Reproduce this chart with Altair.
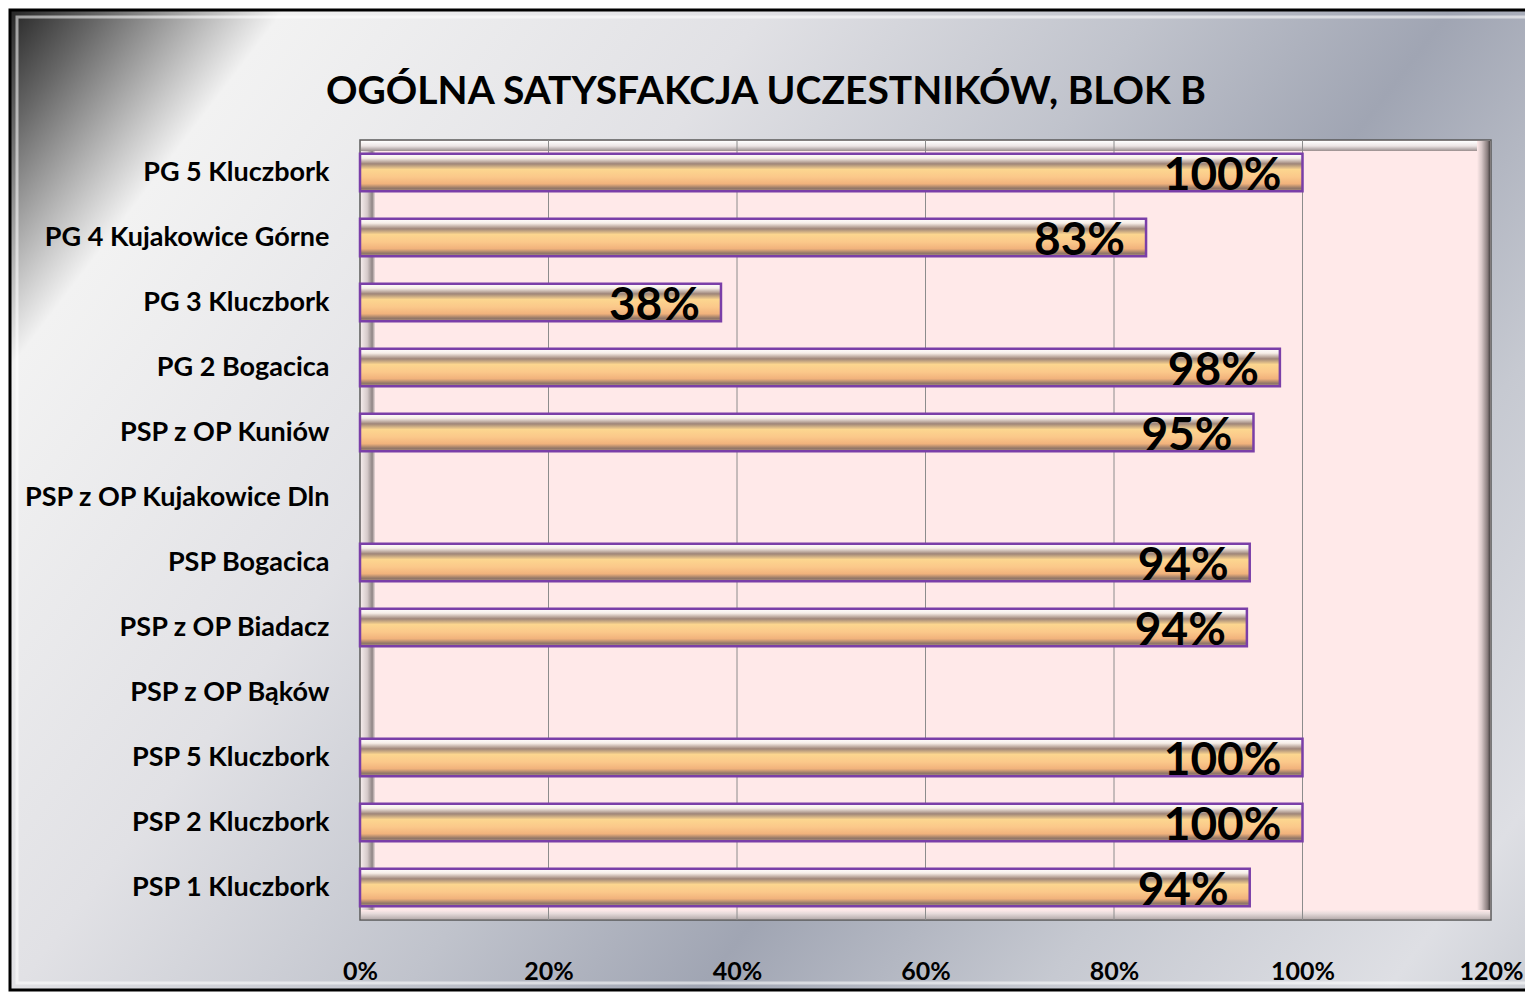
import altair as alt
import pandas as pd

# ---- data ----
categories = [
    "PG 5 Kluczbork",
    "PG 4 Kujakowice Górne",
    "PG 3 Kluczbork",
    "PG 2 Bogacica",
    "PSP z OP Kuniów",
    "PSP z OP Kujakowice Dln",
    "PSP Bogacica",
    "PSP z OP Biadacz",
    "PSP z OP Bąków",
    "PSP 5 Kluczbork",
    "PSP 2 Kluczbork",
    "PSP 1 Kluczbork",
]
values = [1.00, 0.834, 0.383, 0.976, 0.948, None, 0.944, 0.941, None, 1.00, 1.00, 0.944]
x_ticks = [0, 0.2, 0.4, 0.6, 0.8, 1.0, 1.2]
grid_vals = [0.2, 0.4, 0.6, 0.8, 1.0]
title_text = "OGÓLNA SATYSFAKCJA UCZESTNIKÓW, BLOK B"

df = pd.DataFrame({"cat": categories, "value": values})
df_bars = df.dropna()
df_grid = pd.DataFrame({"value": grid_vals})

W, H = 1131, 780
PL, PT = 352, 132
FONT = "Lato"

def lg(stops, x1=0, y1=0, x2=0, y2=1):
    return alt.LinearGradient(
        gradient="linear",
        stops=[alt.GradientStop(offset=o, color=c) for o, c in stops],
        x1=x1, y1=y1, x2=x2, y2=y2,
    )

one = alt.Data(values=[{}])

x_scale = alt.Scale(domain=[0, 1.2], nice=False, zero=True)
x_axis = alt.Axis(values=x_ticks, format=".0%", title=None, grid=False, domain=False,
                  ticks=False, labelFont=FONT, labelFontWeight="bold", labelFontSize=25,
                  labelColor="black", labelPadding=39, zindex=1, labelOverlap=False,
                  labelFlush=False)
y_scale = alt.Scale(domain=categories, paddingInner=0.42, paddingOuter=0.21)
y_axis = alt.Axis(title=None, domain=False, ticks=False, labelFont=FONT,
                  labelFontWeight="bold", labelFontSize=27, labelColor="black",
                  labelPadding=31, zindex=1, labelLimit=400)

# metallic chart background
bg = alt.Chart(one).mark_rect(
    fill=lg([(0, "#262626"), (0.04, "#666666"), (0.12, "#f2f2f2"), (0.33, "#e1e1e5"),
             (0.5, "#c0c3cc"), (0.63, "#a0a5b3"), (0.78, "#c6c9d1"), (0.93, "#dedfe4"),
             (1, "#cacdd4")], x1=0, y1=0, x2=1.2, y2=0.585),
    stroke="#000000", strokeWidth=3,
).encode(x=alt.value(-(PL - 2)), x2=alt.value(1190), y=alt.value(-(PT - 2)), y2=alt.value(850))

inner_frame = alt.Chart(one).mark_rect(
    fill="transparent", stroke="#ffffff", strokeOpacity=0.55, strokeWidth=3,
).encode(x=alt.value(-(PL - 9)), x2=alt.value(1200), y=alt.value(-(PT - 9)), y2=alt.value(843))

# plot area
plot_bg = alt.Chart(one).mark_rect(fill="#FFE9E9", stroke="#5a5a5a", strokeWidth=1.5).encode(
    x=alt.value(0), x2=alt.value(W), y=alt.value(0), y2=alt.value(H))

left_bevel = alt.Chart(one).mark_rect(
    fill=lg([(0, "#f3eaea"), (0.45, "#d6caca"), (0.8, "#8e8484"), (1, "#eadada")], 0, 0, 1, 0)
).encode(x=alt.value(1), x2=alt.value(15), y=alt.value(1), y2=alt.value(H - 1))
top_bevel = alt.Chart(one).mark_rect(
    fill=lg([(0, "#ffffff"), (0.5, "#ece4e4"), (1, "#9a8e8e")])
).encode(x=alt.value(1), x2=alt.value(W - 1), y=alt.value(1), y2=alt.value(11))
right_bevel = alt.Chart(one).mark_rect(
    fill=lg([(0, "#ffe9e9"), (0.35, "#d8c8c8"), (0.8, "#8a7e7e"), (1, "#4a4444")], 0, 0, 1, 0)
).encode(x=alt.value(W - 14), x2=alt.value(W - 1), y=alt.value(1), y2=alt.value(H - 1))
bottom_bevel = alt.Chart(one).mark_rect(
    fill=lg([(0, "#ffe9e9"), (0.4, "#e6dada"), (1, "#b8aeae")])
).encode(x=alt.value(1), x2=alt.value(W - 1), y=alt.value(H - 10), y2=alt.value(H - 1))

grid = alt.Chart(df_grid).mark_rule(color="#8c8c8c", strokeWidth=1).encode(
    x=alt.X("value:Q", scale=x_scale, axis=x_axis),
    y=alt.value(0), y2=alt.value(H),
)

bar_fill = lg([(0, "#ffffff"), (0.12, "#f6eee8"), (0.27, "#9e8578"), (0.42, "#fcd68f"),
               (0.62, "#fbc88a"), (0.8, "#f1b27c"), (0.92, "#8f7567"), (1, "#b39585")])

bars = alt.Chart(df_bars).mark_bar(fill=bar_fill, stroke="#7a3fa8", strokeWidth=2.5).encode(
    x=alt.X("value:Q", scale=x_scale, axis=x_axis),
    y=alt.Y("cat:N", sort=categories, scale=y_scale, axis=y_axis),
)

labels = alt.Chart(df_bars).mark_text(
    align="right", baseline="middle", dx=-21, dy=3, font=FONT, fontWeight="bold",
    fontSize=46, color="black",
).encode(
    x=alt.X("value:Q", scale=x_scale, axis=x_axis),
    y=alt.Y("cat:N", sort=categories, scale=y_scale, axis=y_axis),
    text=alt.Text("value:Q", format=".0%"),
)

title = alt.Chart(one).mark_text(
    text=title_text, font=FONT, fontWeight="bold", fontSize=39, color="black",
    align="center", baseline="middle",
).encode(x=alt.value(406), y=alt.value(-48))

chart = alt.layer(
    bg, inner_frame, plot_bg, left_bevel, top_bevel, right_bevel, bottom_bevel,
    grid, bars, labels, title,
).properties(
    width=W, height=H,
    autosize=alt.AutoSizeParams(type="none"),
    padding={"left": PL, "top": PT, "right": 34, "bottom": 72},
    background="white",
).configure_view(stroke=None)

chart.save("out.html", embed_options={"renderer": "svg", "actions": False})
